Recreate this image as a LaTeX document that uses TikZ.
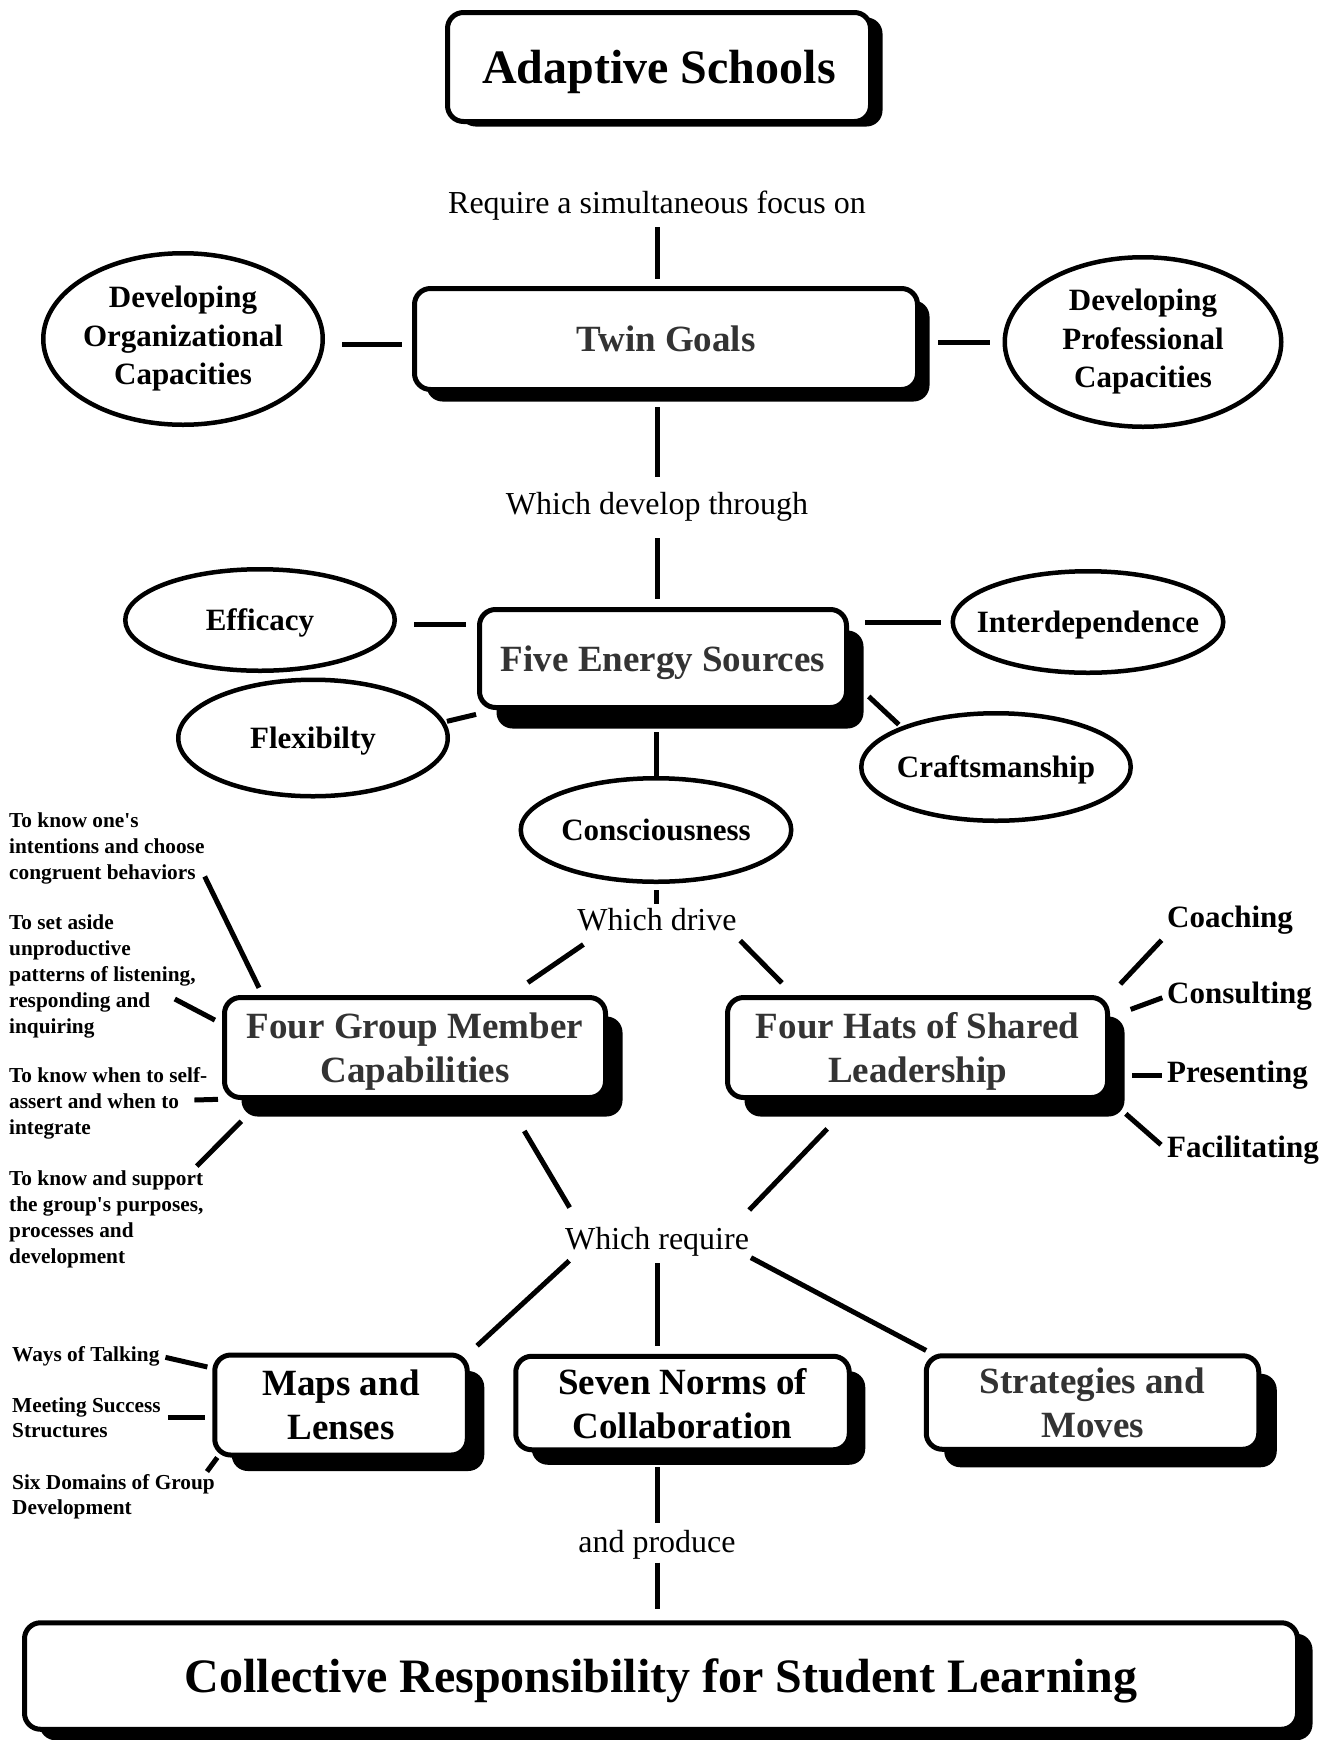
\documentclass[tikz,border=0pt]{standalone}
\usepackage{fontspec}
\setmainfont{Liberation Serif}
\usetikzlibrary{shapes.geometric,shadows}
\definecolor{titlegray}{HTML}{333333}

\begin{document}
\begin{tikzpicture}[x=1pt,y=-1pt,
	box node/.style 2 args={rectangle,rounded corners=16pt,draw,line width=5pt,fill=white,align=center,text depth=0pt,
		font=\fontsize{37}{44}\selectfont\bfseries,
		drop shadow={shadow xshift=#1,shadow yshift=#2,fill=black,opacity=1}},
	oval node/.style={ellipse,draw,line width=4.5pt,fill=white,align=center,inner xsep=-60pt,inner ysep=-20pt,
		font=\fontsize{31}{38.5}\selectfont\bfseries},
	oval one/.style={oval node,text depth=0pt},
	link node/.style={inner sep=0pt,text height=22pt,text depth=7pt,font=\fontsize{32}{38}\selectfont},
	hat node/.style={anchor=west,inner sep=0pt,font=\fontsize{31}{36}\selectfont\bfseries},
	note node/.style={anchor=west,inner sep=0pt,align=left,font=\fontsize{21.3}{26}\selectfont\bfseries},
	main line/.style={line width=5pt}]

	\useasboundingbox (0,0) rectangle (1338,1740);

	\node[box node={12pt}{-5pt},minimum width=423pt,minimum height=109pt,font=\fontsize{48}{56}\selectfont\bfseries] (adapt) at (659,67) {Adaptive Schools};
	\node[link node] (req) at (657,206) {Require a simultaneous focus on};
	\node[box node={12pt}{-12pt},minimum width=503pt,minimum height=101pt,text=titlegray] (twin) at (666,339) {Twin Goals};
	\node[oval node,minimum width=279.5pt,minimum height=171.5pt] (org) at (183,339) {Developing\\Organizational\\Capacities};
	\node[oval node,minimum width=276.5pt,minimum height=169.5pt] (prof) at (1143,342) {Developing\\Professional\\Capacities};
	\node[link node] (dev) at (657,507) {Which develop through};

	\node[box node={17pt}{-21pt},minimum width=367pt,minimum height=98pt,text=titlegray] (five) at (663,658.5) {Five Energy Sources};
	\node[oval one,minimum width=269.5pt,minimum height=101.5pt] (eff) at (260,620) {Efficacy};
	\node[oval one,minimum width=270.5pt,minimum height=101.5pt] (inter) at (1088,622) {Interdependence};
	\node[oval one,minimum width=269.5pt,minimum height=116.5pt] (flex) at (313,738) {Flexibilty};
	\node[oval one,minimum width=269.5pt,minimum height=107.5pt] (craft) at (996,767) {Craftsmanship};
	\node[oval one,minimum width=270.5pt,minimum height=103.5pt] (cons) at (656,830) {Consciousness};
	\node[link node] (drive) at (657,923) {Which drive};

	\node[box node={17pt}{-19pt},minimum width=381pt,minimum height=100pt,text=titlegray] (group) at (415,1047.5) {Four Group Member\\Capabilities};
	\node[box node={17pt}{-19pt},minimum width=380pt,minimum height=100pt,text=titlegray] (hats) at (917.5,1047.5) {Four Hats of Shared\\Leadership};
	\node[note node] (cap1) at (9,848.5) {To know one\textquotesingle s\\intentions and choose\\congruent behaviors};
	\node[note node] (cap2) at (9,976) {To set aside\\unproductive\\patterns of listening,\\responding and\\inquiring};
	\node[note node] (cap3) at (9,1103) {To know when to self-\\assert and when to\\integrate};
	\node[note node] (cap4) at (9,1219) {To know and support\\the group\textquotesingle s purposes,\\processes and\\development};
	\node[hat node] (coach) at (1167,920) {Coaching};
	\node[hat node] (consult) at (1167,996) {Consulting};
	\node[hat node] (present) at (1167,1075) {Presenting};
	\node[hat node] (facil) at (1167,1150) {Facilitating};
	\node[link node] (reqr) at (657,1242) {Which require};

	\node[box node={17pt}{-16pt},minimum width=252.5pt,minimum height=100pt] (maps) at (341,1405) {Maps and\\Lenses};
	\node[box node={16pt}{-15pt},minimum width=333.5pt,minimum height=93.5pt] (seven) at (682.5,1403) {Seven Norms of\\Collaboration};
	\node[box node={18pt}{-18pt},minimum width=332.5pt,minimum height=93.5pt,text=titlegray] (strat) at (1092.5,1402.5) {Strategies and\\Moves};
	\node[note node,font=\fontsize{21.3}{25}\selectfont\bfseries] (ways) at (12,1356) {Ways of Talking};
	\node[note node,font=\fontsize{21.3}{25}\selectfont\bfseries] (meet) at (12,1417.5) {Meeting Success\\Structures};
	\node[note node,font=\fontsize{21.3}{25}\selectfont\bfseries] (six) at (12,1497) {Six Domains of Group\\Development};
	\node[link node] (prod) at (657,1545) {and produce};
	\node[box node={15pt}{-11pt},minimum width=1273pt,minimum height=106.5pt,font=\fontsize{48}{56}\selectfont\bfseries] (coll) at (661,1676) {Collective Responsibility for Student Learning};

	\path[main line]
	(req.south) edge[shorten <=6.5pt,shorten >=7pt] (req.south |- twin.north)
	([shift={(0,5)}]org.east) edge[shorten <=17pt,shorten >=10pt] ([shift={(0,5)}]org.east -| twin.west)
	(twin.east |- prof.west) edge[shorten <=18pt,shorten >=12.5pt] (prof.west)
	(twin.south -| dev.north) edge[shorten <=15pt,shorten >=15.5pt] (dev.north)
	(dev.south) edge[shorten <=16.5pt,shorten >=8pt] (dev.south |- five.north)
	([shift={(0,4)}]eff.east) edge[shorten <=17pt,shorten >=11pt] ([shift={(0,4)}]eff.east -| five.west)
	(inter.west -| five.east) edge[shorten <=16pt,shorten >=9.5pt] (inter.west)
	(flex.7) edge[shorten <=2pt,shorten >=19pt] (five.197)
	(five.-6) edge[shorten <=27pt,shorten >=3pt] (craft.157)
	(cons.north |- five.south) edge[shorten <=22pt] (cons.north)
	(cons.south) edge[shorten <=6pt,shorten >=4.5pt] (cons.south |- drive.north)
	(drive.193) edge[shorten <=12pt,shorten >=22pt] (group.29)
	(drive.-10) edge[shorten <=5pt,shorten >=17pt] (hats.157)

	([shift={(0,-8)}]cap1.south east) edge[shorten >=8pt] (group.161)
	([shift={(-21,23)}]cap2.east) edge[shorten >=8pt] (group.173)
	([shift={(-13,-3)}]cap3.east) edge[shorten >=4pt] (group.195)
	([shift={(-7,-4)}]cap4.north east) edge[shorten >=30pt] (group.199)
	(hats.north east) edge[shorten <=15pt,shorten >=8pt] (coach.south west)
	(hats.9) edge[shorten <=22pt,shorten >=5pt] (consult.west)
	(present.west -| hats.east) edge[shorten <=22pt,shorten >=5pt] (present.west)
	(hats.south east) edge[shorten <=21pt,shorten >=8pt] (facil.west)

	(group.-30) edge[shorten <=36pt,shorten >=23pt] (reqr.169)
	(hats.220) edge[shorten <=40pt,shorten >=24pt] (reqr.11)
	(reqr.190) edge[shorten <=6pt,shorten >=10pt] (maps.north east)
	(reqr.south) edge[shorten <=6.5pt,shorten >=7.5pt] (reqr.south |- seven.north)
	(reqr.south east) edge[shorten <=2pt,shorten >=6pt] (strat.163)
	(ways.east) edge[shorten <=6pt,shorten >=5pt] (maps.164)
	(meet.east) edge[shorten <=7pt,shorten >=7pt] (meet.east -| maps.west)
	([shift={(-8,-3)}]six.north east) edge (maps.203)
	(prod.north |- seven.south) edge[shorten <=15pt,shorten >=7.5pt] (prod.north)
	(prod.south) edge[shorten <=3pt,shorten >=11pt] (prod.south |- coll.north);
\end{tikzpicture}
\end{document}
